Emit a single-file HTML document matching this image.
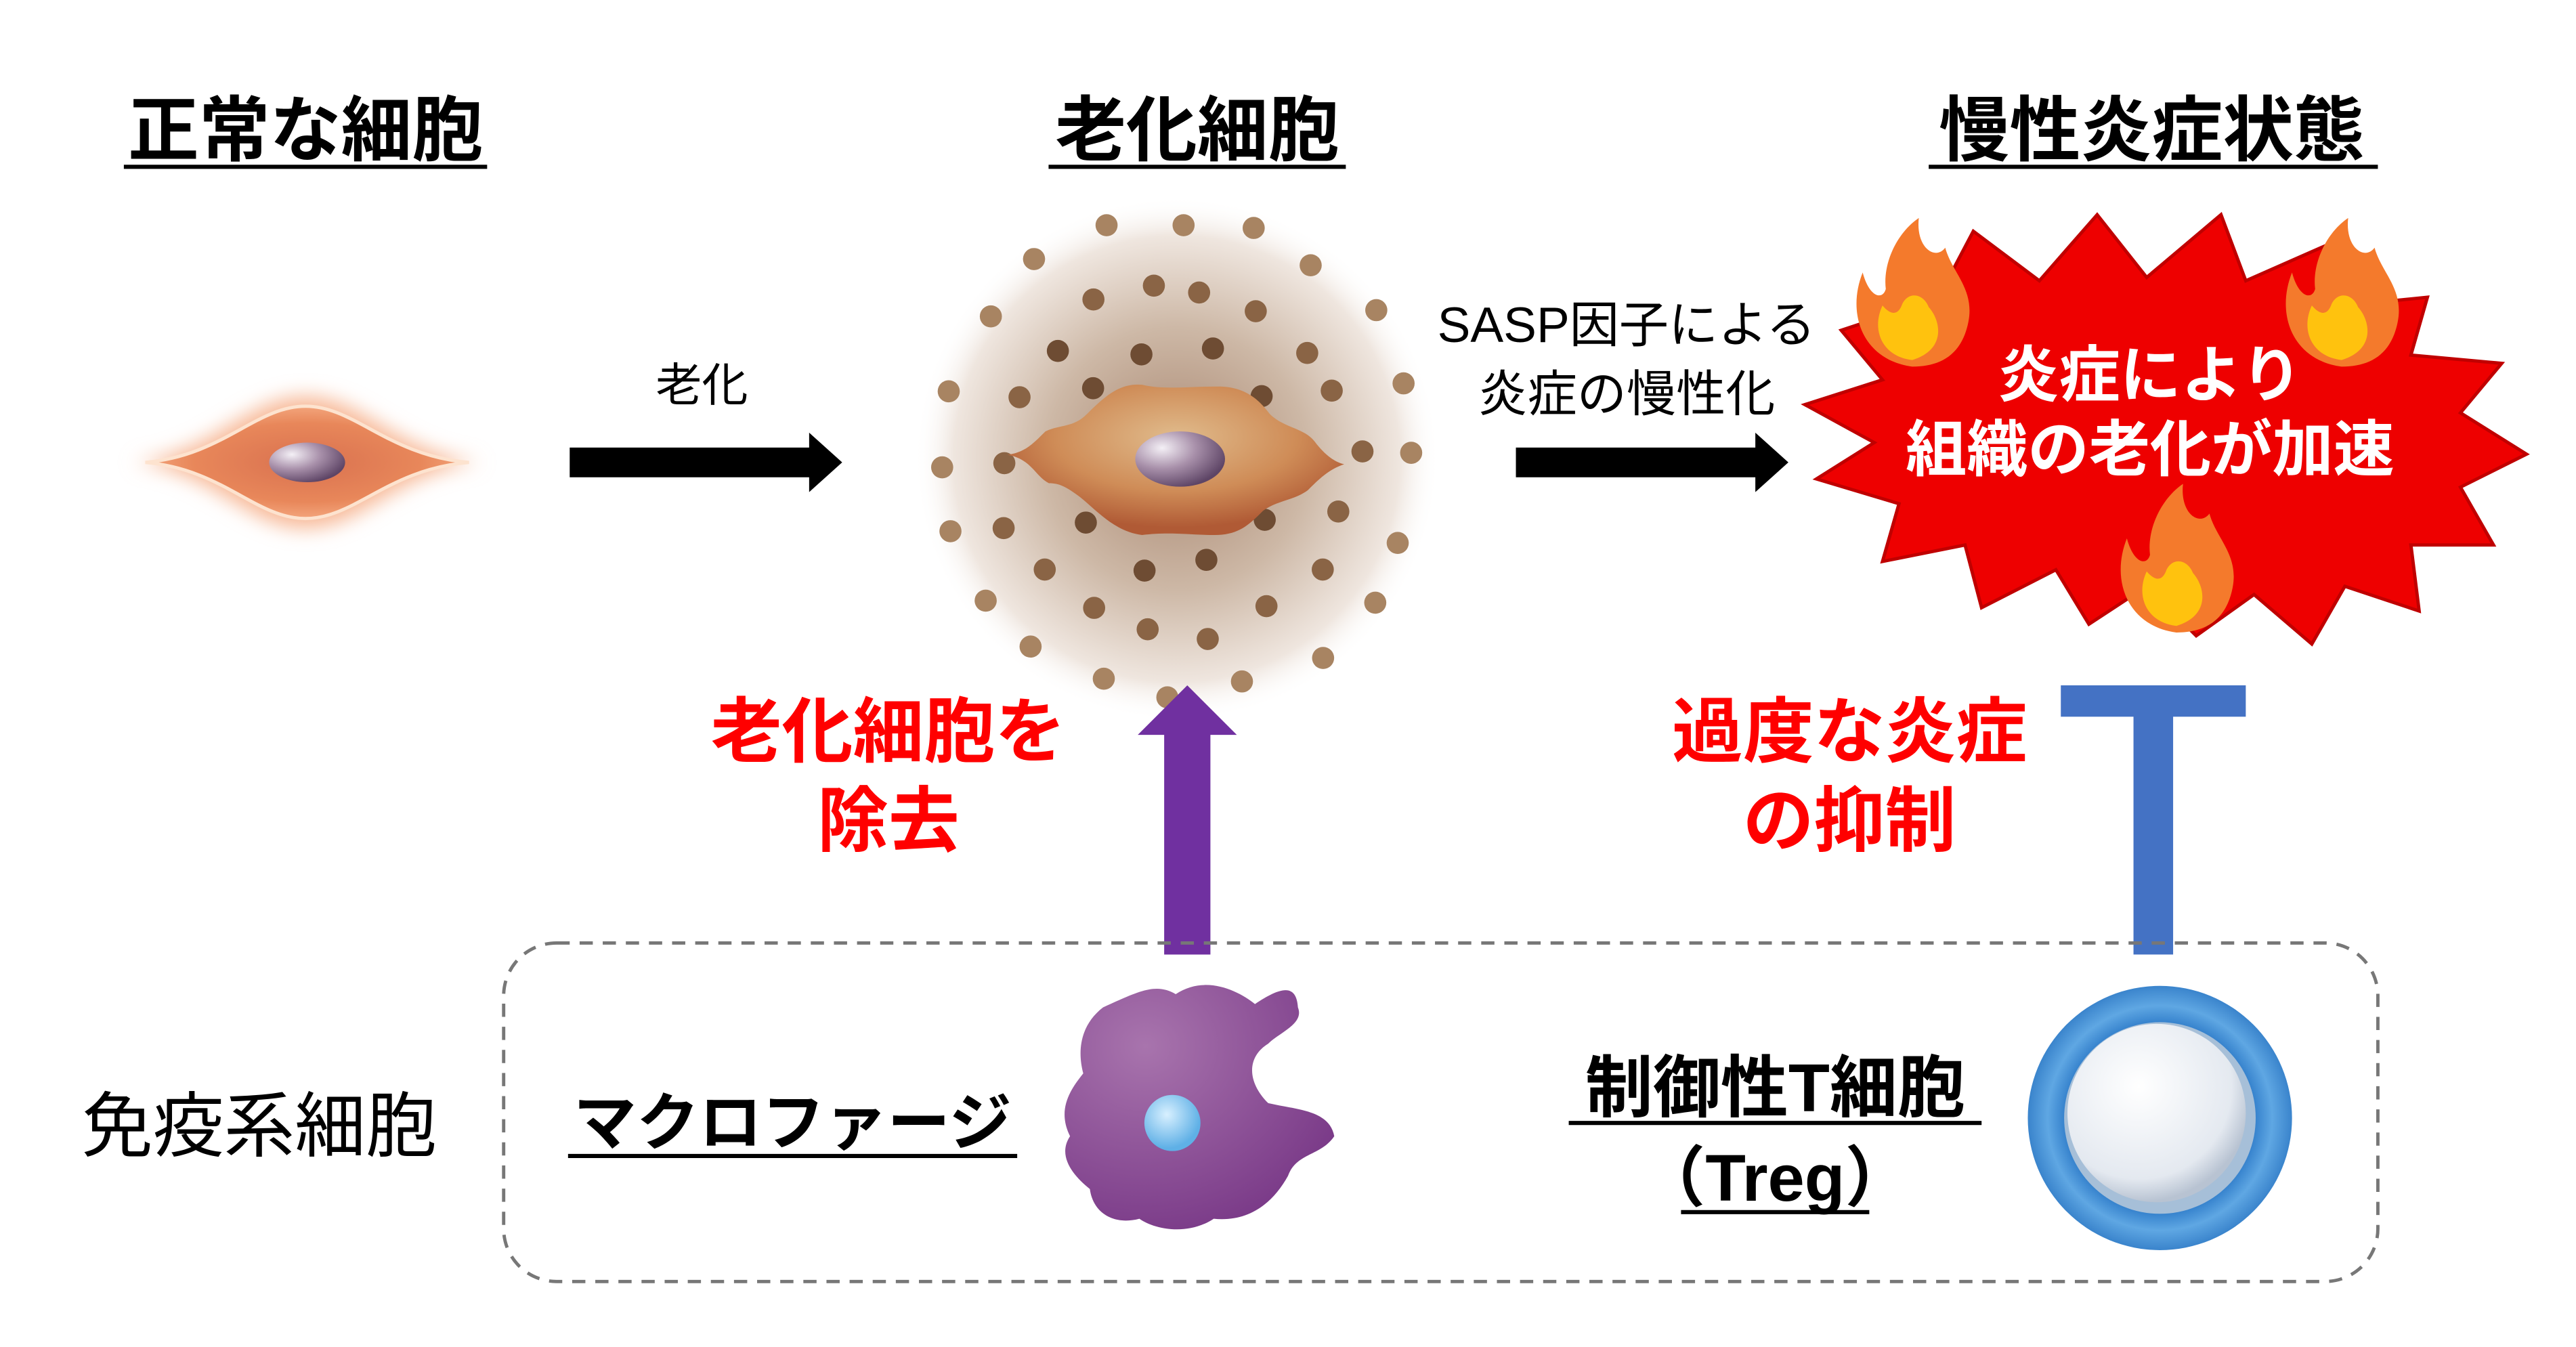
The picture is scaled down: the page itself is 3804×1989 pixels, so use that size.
<!DOCTYPE html>
<html><head><meta charset="utf-8"><style>
html,body{margin:0;padding:0;background:#fff;}
svg{display:block;}
text{font-family:"Liberation Sans","Noto Sans CJK JP",sans-serif;}
</style></head><body>
<svg width="3804" height="1989" viewBox="0 0 3804 1989" xmlns="http://www.w3.org/2000/svg">
<defs>
<radialGradient id="glow" cx="50%" cy="50%" r="50%">
<stop offset="0" stop-color="#a88670"/><stop offset="0.5" stop-color="#cdb8a6"/><stop offset="0.85" stop-color="#efe6df"/><stop offset="1" stop-color="#fff" stop-opacity="0"/></radialGradient>
<radialGradient id="cellg" cx="50%" cy="35%" r="60%"><stop offset="0" stop-color="#e0bb8c"/><stop offset="0.6" stop-color="#cf8c57"/><stop offset="1" stop-color="#b05a35"/></radialGradient>
<radialGradient id="nuc" cx="30%" cy="30%" r="75%"><stop offset="0" stop-color="#f4f0f6"/><stop offset="0.5" stop-color="#a890aa"/><stop offset="1" stop-color="#5e4566"/></radialGradient>
<radialGradient id="ncell" cx="50%" cy="50%" r="50%"><stop offset="0" stop-color="#d9714f"/><stop offset="0.7" stop-color="#e8875a"/><stop offset="1" stop-color="#f3a57c"/></radialGradient>
<radialGradient id="mac" cx="30%" cy="25%" r="80%"><stop offset="0" stop-color="#a874ad"/><stop offset="1" stop-color="#7a3a88"/></radialGradient>
<radialGradient id="treg" cx="40%" cy="35%" r="65%"><stop offset="0" stop-color="#ffffff"/><stop offset="0.8" stop-color="#e4e9f0"/><stop offset="1" stop-color="#b8c3d2"/></radialGradient>
<radialGradient id="ring" cx="50%" cy="50%" r="50%"><stop offset="0.7" stop-color="#2f7cc9"/><stop offset="0.85" stop-color="#5fa7e3"/><stop offset="1" stop-color="#3a84cc"/></radialGradient>
<radialGradient id="blue" cx="40%" cy="35%" r="60%"><stop offset="0" stop-color="#d8f0ff"/><stop offset="1" stop-color="#5fb0e6"/></radialGradient>
<filter id="blur" x="-30%" y="-30%" width="160%" height="160%"><feGaussianBlur stdDeviation="6"/></filter>
</defs>

<g transform="translate(1350,280) scale(0.51)">
<circle cx="760" cy="780" r="760" fill="url(#glow)"/>
<g fill="#8a6445">
<circle cx="557" cy="103" r="32" fill="#a88462"/><circle cx="780" cy="103" r="32" fill="#a88462"/><circle cx="983" cy="111" r="32" fill="#a88462"/><circle cx="347" cy="201" r="32" fill="#a88462"/><circle cx="1148" cy="219" r="32" fill="#a88462"/>
<circle cx="694" cy="278" r="32"/><circle cx="825" cy="298" r="32"/><circle cx="519" cy="318" r="32"/><circle cx="989" cy="352" r="32"/><circle cx="1338" cy="349" r="32" fill="#a88462"/><circle cx="222" cy="367" r="32" fill="#a88462"/>
<circle cx="416" cy="467" r="32" fill="#6e4c33"/><circle cx="658" cy="477" r="32" fill="#6e4c33"/><circle cx="865" cy="460" r="32" fill="#6e4c33"/><circle cx="1138" cy="473" r="32"/><circle cx="1417" cy="561" r="32" fill="#a88462"/>
<circle cx="100" cy="584" r="32" fill="#a88462"/><circle cx="305" cy="601" r="32"/><circle cx="518" cy="575" r="32" fill="#6e4c33"/><circle cx="1006" cy="598" r="32" fill="#6e4c33"/><circle cx="1209" cy="582" r="32"/>
<circle cx="81" cy="804" r="32" fill="#a88462"/><circle cx="261" cy="792" r="32"/><circle cx="1298" cy="758" r="32"/><circle cx="1439" cy="762" r="32" fill="#a88462"/>
<circle cx="105" cy="989" r="32" fill="#a88462"/><circle cx="259" cy="980" r="32"/><circle cx="497" cy="964" r="32" fill="#6e4c33"/><circle cx="1015" cy="956" r="32" fill="#6e4c33"/><circle cx="1228" cy="932" r="32"/><circle cx="1400" cy="1023" r="32" fill="#a88462"/>
<circle cx="378" cy="1100" r="32"/><circle cx="667" cy="1103" r="32" fill="#6e4c33"/><circle cx="846" cy="1072" r="32" fill="#6e4c33"/><circle cx="1183" cy="1100" r="32"/>
<circle cx="207" cy="1190" r="32" fill="#a88462"/><circle cx="521" cy="1211" r="32"/><circle cx="1020" cy="1206" r="32"/><circle cx="1335" cy="1196" r="32" fill="#a88462"/>
<circle cx="676" cy="1273" r="32"/><circle cx="850" cy="1301" r="32"/><circle cx="337" cy="1323" r="32" fill="#a88462"/><circle cx="1184" cy="1356" r="32" fill="#a88462"/>
<circle cx="549" cy="1416" r="32" fill="#a88462"/><circle cx="949" cy="1424" r="32" fill="#a88462"/><circle cx="733" cy="1470" r="32" fill="#a88462"/>
</g>
<path d="M270,768 C320,760 340,740 380,700 C420,680 460,690 500,650 C560,590 600,560 660,565 C720,580 800,570 880,570 C960,570 1000,610 1030,650 C1070,690 1130,690 1160,730 C1190,770 1220,790 1245,795 C1200,810 1170,840 1140,870 C1100,900 1050,900 1010,930 C970,970 940,1000 870,1000 C800,1000 740,990 660,1000 C580,990 530,930 480,890 C440,860 420,850 390,850 C350,830 340,780 270,768 Z" fill="url(#cellg)"/>
<ellipse cx="770" cy="780" rx="130" ry="80" fill="url(#nuc)"/>
</g>

<g transform="scale(2.4385)">
<g font-weight="bold" font-size="43" text-anchor="middle" fill="#000">
<text x="185" y="94">正常な細胞</text>
<text x="725" y="94">老化細胞</text>
<text x="1303" y="94">慢性炎症状態</text>
</g>
<g stroke="#000" stroke-width="2.5">
<line x1="75" y1="101" x2="295" y2="101"/>
<line x1="635" y1="101" x2="815" y2="101"/>
<line x1="1168" y1="101" x2="1440" y2="101"/>
</g>

<path d="M80,280 C130,275 150,240 185,240 C220,240 240,275 292,280 C240,285 220,320 185,320 C150,320 130,285 80,280Z" fill="#f7b896" filter="url(#blur)"/>
<path d="M88,280 C135,276 155,246 185,246 C215,246 235,276 284,280 C235,284 215,314 185,314 C155,314 135,284 88,280Z" fill="url(#ncell)" stroke="#fde3cf" stroke-width="2"/>
<ellipse cx="186" cy="280" rx="23" ry="12" fill="url(#nuc)"/>

<path d="M345,271 H490 V262 L510,280 L490,298 V289 H345Z" fill="#000"/>
<text x="425" y="243" font-size="28" text-anchor="middle">老化</text>
<path d="M918,271 H1063 V262 L1083,280 L1063,298 V289 H918Z" fill="#000"/>
<text x="985" y="207" font-size="30" text-anchor="middle">SASP因子による</text>
<text x="985" y="249" font-size="30" text-anchor="middle">炎症の慢性化</text>

<path d="M1130,195 L1175,178 L1195,140 L1235,170 L1270,130 L1300,168 L1345,130 L1360,170 L1410,148 L1420,185 L1470,180 L1460,215 L1515,220 L1490,250 L1530,275 L1490,295 L1510,330 L1460,330 L1465,370 L1420,355 L1400,390 L1365,360 L1330,385 L1300,355 L1265,378 L1245,345 L1200,368 L1190,330 L1140,340 L1150,305 L1100,290 L1135,268 L1093,245 L1140,230 L1115,200Z" fill="#ee0000" stroke="#c00000" stroke-width="2"/>
<g font-weight="bold" font-size="37" text-anchor="middle" fill="#fff">
<text x="1302" y="240">炎症により</text>
<text x="1302" y="285">組織の老化が加速</text>
</g>
<g>
<path d="M1158,222 C1128,218 1118,190 1128,165 C1132,180 1140,182 1142,175 C1140,158 1150,140 1162,132 C1160,150 1172,158 1178,150 C1182,165 1196,175 1192,195 C1188,215 1175,222 1158,222Z" fill="#f47a2c"/>
<path d="M1158,218 C1140,216 1133,200 1140,185 C1146,192 1150,190 1152,184 C1156,176 1165,178 1168,186 C1176,195 1178,212 1158,218Z" fill="#ffc20e"/>
<path d="M1418,222 C1388,218 1378,190 1388,165 C1392,180 1400,182 1402,175 C1400,158 1410,140 1422,132 C1420,150 1432,158 1438,150 C1442,165 1456,175 1452,195 C1448,215 1435,222 1418,222Z" fill="#f47a2c"/>
<path d="M1418,218 C1400,216 1393,200 1400,185 C1406,192 1410,190 1412,184 C1416,176 1425,178 1428,186 C1436,195 1438,212 1418,218Z" fill="#ffc20e"/>
<path d="M1318,383 C1288,379 1278,351 1288,326 C1292,341 1300,343 1302,336 C1300,319 1310,301 1322,293 C1320,311 1332,319 1338,311 C1342,326 1356,336 1352,356 C1348,376 1335,383 1318,383Z" fill="#f47a2c"/>
<path d="M1318,379 C1300,377 1293,361 1300,346 C1306,353 1310,351 1312,345 C1316,337 1325,339 1328,347 C1336,356 1338,373 1318,379Z" fill="#ffc20e"/>
</g>

<path d="M705,578 V445 H689 L719,415 L749,445 H733 V578Z" fill="#7030a0"/>
<g font-weight="bold" font-size="43" text-anchor="middle" fill="#ff0000">
<text x="538" y="458">老化細胞を</text>
<text x="538" y="512">除去</text>
<text x="1120" y="458">過度な炎症</text>
<text x="1120" y="512">の抑制</text>
</g>
<rect x="1248" y="415" width="112" height="19" fill="#4472c4"/>
<rect x="1292" y="430" width="24" height="148" fill="#4472c4"/>

<rect x="305" y="571" width="1135" height="205" rx="32" fill="none" stroke="#777" stroke-width="2" stroke-dasharray="8,6"/>
<text x="157" y="697" font-size="43" text-anchor="middle">免疫系細胞</text>
<text x="480" y="693" font-size="38" font-weight="bold" text-anchor="middle">マクロファージ</text>
<line x1="344" y1="700" x2="616" y2="700" stroke="#000" stroke-width="2.5"/>

<path d="M668,610 C690,600 700,595 712,602 C730,590 750,600 760,608 C775,598 785,595 786,610 C790,620 775,625 768,632 C755,640 755,655 768,668 C785,672 805,672 808,688 C800,700 785,698 780,712 C770,730 755,740 735,738 C720,748 700,745 690,738 C675,742 662,735 660,720 C650,712 640,700 648,688 C640,672 648,660 656,650 C652,635 655,620 668,610Z" fill="url(#mac)"/>
<circle cx="710" cy="680" r="17" fill="url(#blue)"/>

<text x="1075" y="673" font-size="41" font-weight="bold" text-anchor="middle">制御性T細胞</text>
<line x1="950" y1="680" x2="1200" y2="680" stroke="#000" stroke-width="2.5"/>
<text x="1075" y="727" font-size="40" font-weight="bold" text-anchor="middle">（Treg）</text>
<line x1="1018" y1="734" x2="1132" y2="734" stroke="#000" stroke-width="2.5"/>

<circle cx="1308" cy="677" r="80" fill="url(#ring)"/>
<circle cx="1308" cy="677" r="58" fill="#a6bfd8"/>
<circle cx="1306" cy="674" r="54" fill="url(#treg)"/>
</g>
</svg>
</body></html>
